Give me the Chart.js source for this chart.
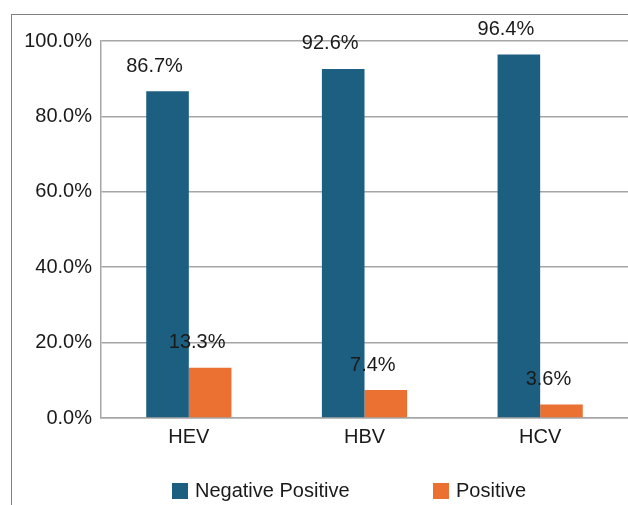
<!DOCTYPE html>
<html>
<head>
<meta charset="utf-8">
<script src="https://cdn.jsdelivr.net/npm/chart.js@4"></script>
<style>
  html, body { margin: 0; padding: 0; background: #fff; overflow: hidden; }
  #wrap { position: relative; width: 628px; height: 505px; }
  #frame { position: absolute; left: 11px; top: 14px; width: 700px; height: 600px;
           border-top: 1px solid #7f7f7f; border-left: 1px solid #7f7f7f; }
  .legend-item { position: absolute; top: 479px; display: flex; align-items: center;
                 font: 20px "Liberation Sans", Arial, sans-serif; color: #1a1a1a; }
  .legend-box { width: 16px; height: 16px; margin-right: 7px; }
</style>
</head>
<body>
<div id="wrap">
  <div id="frame"></div>
  <canvas id="chart" width="628" height="505"></canvas>
  <div class="legend-item" style="left:172px"><span class="legend-box" id="lb0"></span><span id="lt0"></span></div>
  <div class="legend-item" style="left:433px"><span class="legend-box" id="lb1"></span><span id="lt1"></span></div>
</div>
<script>
// Datos del gráfico
const categories = ['HEV', 'HBV', 'HCV'];
const seriesNames = ['Negative Positive', 'Positive'];
const negativeValues = [86.7, 92.6, 96.4];
const positiveValues = [13.3, 7.4, 3.6];
const yTicks = [0, 20, 40, 60, 80, 100];

const colors = ['#1c5f81', '#eb7132'];

Chart.defaults.font.family = '"Liberation Sans", Arial, sans-serif';
Chart.defaults.font.size = 20;
Chart.defaults.color = '#1a1a1a';

// Etiquetas de valor sobre cada barra
const valueLabels = {
    id: 'valueLabels',
    afterDatasetsDraw(chart) {
        const ctx = chart.ctx;
        ctx.save();
        ctx.font = '20px "Liberation Sans", Arial, sans-serif';
        ctx.fillStyle = '#1a1a1a';
        ctx.textAlign = 'center';
        ctx.textBaseline = 'middle';
        chart.data.datasets.forEach((ds, i) => {
            chart.getDatasetMeta(i).data.forEach((bar, j) => {
                ctx.fillText(ds.data[j].toFixed(1) + '%', bar.x - 13, bar.y - 25);
            });
        });
        ctx.restore();
    }
};

new Chart(document.getElementById('chart'), {
    type: 'bar',
    data: {
        labels: categories,
        datasets: [
            { label: seriesNames[0], data: negativeValues, backgroundColor: colors[0] },
            { label: seriesNames[1], data: positiveValues, backgroundColor: colors[1] }
        ]
    },
    options: {
        responsive: false,
        animation: false,
        events: [],
        layout: { padding: { top: 41, right: 0, bottom: 47, left: 0 } },
        datasets: { bar: { categoryPercentage: 0.485, barPercentage: 1 } },
        scales: {
            x: {
                grid: { display: false, drawTicks: false },
                border: { color: '#a6a6a6', width: 1.5 },
                ticks: { padding: 7 },
                afterFit: scale => { scale.height = 40; }
            },
            y: {
                min: 0,
                max: 100,
                afterBuildTicks: scale => { scale.ticks = yTicks.map(v => ({ value: v })); },
                grid: { color: '#a6a6a6', lineWidth: 1.5, drawTicks: false },
                border: { color: '#a6a6a6', width: 1.5 },
                ticks: { padding: 9, callback: v => v.toFixed(1) + '%' },
                afterFit: scale => { scale.width = 101; }
            }
        },
        plugins: {
            legend: { display: false },
            tooltip: { enabled: false }
        }
    },
    plugins: [valueLabels]
});

// Leyenda en HTML
seriesNames.forEach((name, i) => {
    document.getElementById('lb' + i).style.background = colors[i];
    document.getElementById('lt' + i).textContent = name;
});
</script>
</body>
</html>
